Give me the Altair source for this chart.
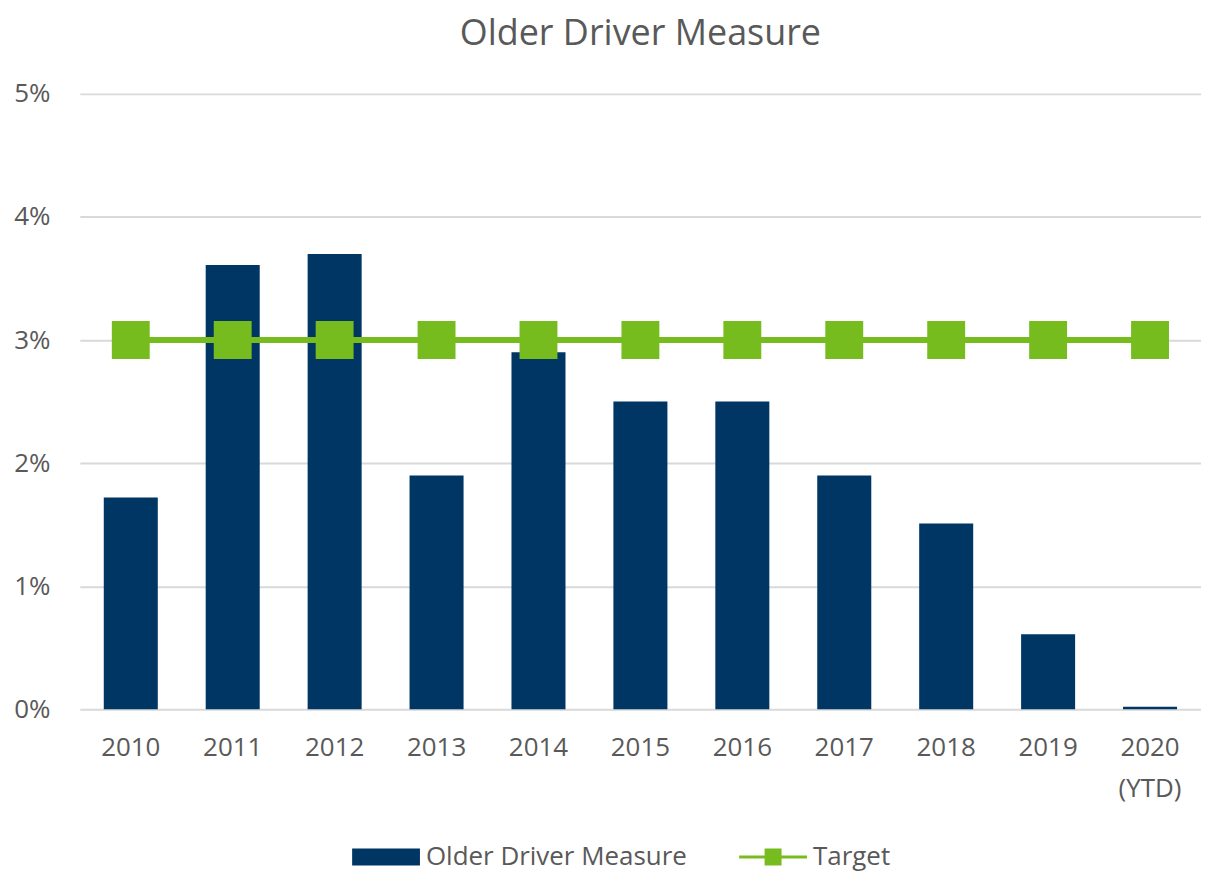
import altair as alt
import pandas as pd

years = ["2010", "2011", "2012", "2013", "2014", "2015", "2016", "2017", "2018", "2019", "2020 (YTD)"]
measure = [0.0172, 0.0361, 0.0370, 0.0190, 0.0290, 0.0250, 0.0250, 0.0190, 0.0151, 0.0061, 0.0002]
target = [0.03] * 11
y_ticks = [0, 0.01, 0.02, 0.03, 0.04, 0.05]

NAVY = "#003663"
GREEN = "#77BC1F"
TXT = "#595959"
FONT = "Open Sans"

df = pd.DataFrame({
    "year": years,
    "measure": measure,
    "target": target,
    "s1": ["Older Driver Measure"] * 11,
    "s2": ["Target"] * 11,
})

x = alt.X("year:N", sort=years, title=None,
          scale=alt.Scale(paddingInner=0.47, paddingOuter=0.235),
          axis=alt.Axis(labelAngle=0, labelFontSize=26, labelColor=TXT, labelFont=FONT,
                        ticks=False, domain=False, labelPadding=25, labelLineHeight=41,
                        labelExpr="split(datum.label, ' ')"))

yscale = alt.Scale(domain=[0, 0.05])

bars = alt.Chart(df).mark_bar(color=NAVY).encode(
    x=x,
    y=alt.Y("measure:Q", scale=yscale, title=None,
            axis=alt.Axis(values=y_ticks, format=".0%", labelFontSize=26, labelColor=TXT,
                          labelFont=FONT, ticks=False, domain=False, labelPadding=30,
                          gridColor="#D9D9D9", gridWidth=2)),
    fill=alt.Fill("s1:N", title=None,
                  scale=alt.Scale(domain=["Older Driver Measure"], range=[NAVY]),
                  legend=alt.Legend(orient="none", legendX=273, legendY=731,
                                    symbolType="M-1,-0.25H1V0.25H-1Z", symbolSize=4624,
                                    symbolStrokeWidth=0, labelFontSize=26, labelColor=TXT,
                                    labelFont=FONT, labelOffset=6, labelLimit=500)),
)

line = alt.Chart(df).mark_line(color=GREEN, strokeWidth=6).encode(
    x=x,
    y=alt.Y("target:Q", scale=yscale),
)

points = alt.Chart(df).mark_point(shape="square", filled=True, size=1444, opacity=1).encode(
    x=x,
    y=alt.Y("target:Q", scale=yscale),
    color=alt.Color("s2:N", title=None,
                    scale=alt.Scale(domain=["Target"], range=[GREEN]),
                    legend=alt.Legend(orient="none", legendX=661, legendY=731,
                                      symbolType="M-1,-0.045H1V0.045H-1Z M-0.25,-0.25H0.25V0.25H-0.25Z",
                                      symbolSize=4624, symbolStrokeWidth=0, labelFontSize=26,
                                      labelColor=TXT, labelFont=FONT, labelOffset=6, labelLimit=300)),
)

chart = alt.layer(bars, line, points).resolve_scale(fill="independent", color="independent").properties(
    width=1124,
    height=617,
    title=alt.TitleParams("Older Driver Measure", fontSize=36, font=FONT, fontWeight="normal",
                          color=TXT, anchor="middle", offset=28),
    padding={"left": 5, "top": 7, "right": 0, "bottom": 5},
).configure_view(stroke=None)

chart.save("out.html", embed_options={"renderer": "svg", "actions": False})
